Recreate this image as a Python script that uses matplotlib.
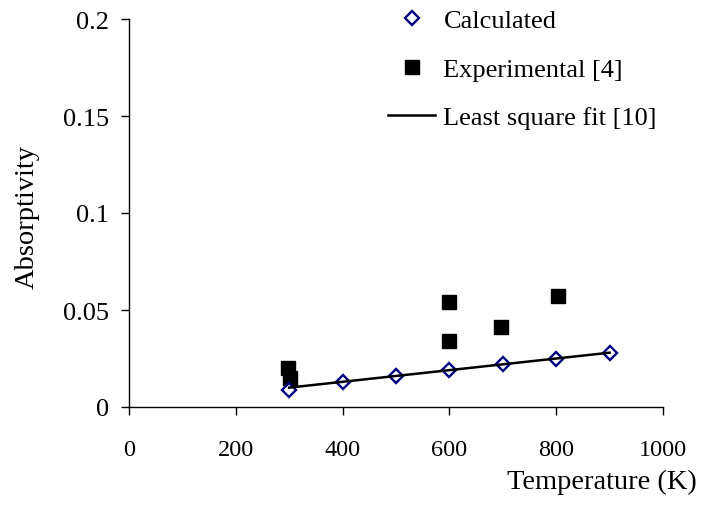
import matplotlib
matplotlib.use("Agg")
import matplotlib.pyplot as plt

plt.rcParams['font.family'] = ['Liberation Serif', 'DejaVu Serif']

# Данные
calc_temp = [300, 400, 500, 600, 700, 800, 900]
calc_abs = [0.009, 0.013, 0.016, 0.019, 0.022, 0.025, 0.028]

exp_temp = [298, 302, 600, 600, 697, 804]
exp_abs = [0.020, 0.015, 0.054, 0.034, 0.041, 0.057]

fit_temp = [300, 900]
fit_abs = [0.010, 0.028]

x_ticks = [0, 200, 400, 600, 800, 1000]
y_ticks = [0, 0.05, 0.1, 0.15, 0.2]
y_tick_labels = ['0', '0.05', '0.1', '0.15', '0.2']

fig = plt.figure(figsize=(7.03, 5.10), dpi=100)
ax = fig.add_axes([129 / 703, 1 - 408 / 510, 534 / 703, 388 / 510])

ax.plot(calc_temp, calc_abs, linestyle='none', marker='D', markersize=7.4,
        markerfacecolor='white', markeredgecolor='#000080', markeredgewidth=1.7,
        label='Calculated', zorder=4)
ax.plot(exp_temp, exp_abs, linestyle='none', marker='s', markersize=10.5,
        color='black', label='Experimental [4]', zorder=3)
ax.plot(fit_temp, fit_abs, color='black', linewidth=1.8,
        label='Least square fit [10]', zorder=5)

ax.set_xlim(0, 1000)
ax.set_ylim(0, 0.2)
ax.set_xticks(x_ticks)
ax.set_yticks(y_ticks)
ax.set_yticklabels(y_tick_labels)
ax.tick_params(direction='out', length=6, width=1)
ax.tick_params(axis='x', labelsize=17.5, pad=17)
ax.tick_params(axis='y', labelsize=19, pad=8.5)

for side in ['top', 'right']:
    ax.spines[side].set_visible(False)
for side in ['left', 'bottom']:
    ax.spines[side].set_linewidth(1)

# подписи осей
fig.text(27 / 703, 1 - 217 / 510, 'Absorptivity', fontsize=20.5,
         rotation=90, ha='center', va='center')
fig.text(697 / 703, 1 - 489 / 510, 'Temperature (K)', fontsize=20.5,
         ha='right', va='baseline')

ax.legend(loc='upper left', bbox_to_anchor=(0.485, 1.026), frameon=False,
          fontsize=19, handlelength=1.8, handletextpad=0.3, labelspacing=0.95,
          borderpad=0, borderaxespad=0)

fig.savefig('out.png', dpi=100)
